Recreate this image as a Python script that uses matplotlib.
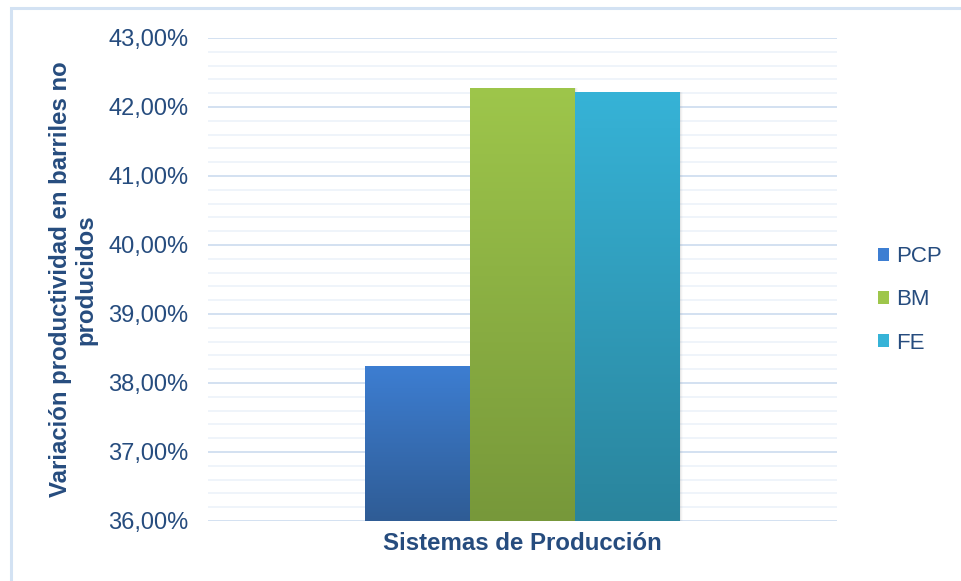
import numpy as np
import matplotlib
matplotlib.use("Agg")
import matplotlib.pyplot as plt
from matplotlib.patches import Rectangle
from matplotlib.colors import LinearSegmentedColormap
from matplotlib.ticker import MultipleLocator, FuncFormatter

plt.rcParams['font.family'] = ['Liberation Sans', 'DejaVu Sans']

category = ["Sistemas de Producción"]
series = ["PCP", "BM", "FE"]
values = [38.25, 42.28, 42.22]          # percent
y_ticks = [36, 37, 38, 39, 40, 41, 42, 43]
y_label = "Variación productividad en barriles no\nproducidos"

# top / bottom colours of each bar's vertical gradient
grad_top = ["#3D7ED2", "#9EC64B", "#36B3D7"]
grad_bottom = ["#2F5C95", "#77983A", "#2A849C"]

text_color = "#264C7E"

fig = plt.figure(figsize=(9.61, 5.81), dpi=100)
ax = fig.add_axes([208 / 961, 1 - 521 / 581, 629 / 961, 483 / 581])

width = 1 / 6
offsets = (np.arange(len(series)) - 1) * width
bars = []
for i, name in enumerate(series):
    b = ax.bar(0 + offsets[i], values[i] - y_ticks[0], bottom=y_ticks[0],
               width=width, color=grad_bottom[i], label=name, zorder=3,
               linewidth=0)
    bars.append(b[0])

# vertical gradient fill clipped to each bar
grad = np.linspace(1, 0, 256).reshape(-1, 1)
for i, patch in enumerate(bars):
    x0, y0 = patch.get_x(), patch.get_y()
    w, h = patch.get_width(), patch.get_height()
    cmap = LinearSegmentedColormap.from_list(f"g{i}", [grad_bottom[i], grad_top[i]])
    # soft shadow on the right edge
    for k, a in enumerate([0.10, 0.06, 0.03]):
        sh = Rectangle((x0 + w, y0), 0.0018 * (k + 1), h, transform=ax.transData,
                       color="#808080", alpha=a, lw=0, zorder=2)
        ax.add_patch(sh)
    im = ax.imshow(grad, cmap=cmap, aspect="auto", extent=[x0, x0 + w, y0, y0 + h],
                   zorder=4, interpolation="bilinear")
    im.set_clip_path(patch)
    patch.set_facecolor("none")

ax.set_xlim(-0.5, 0.5)
ax.set_ylim(y_ticks[0], y_ticks[-1])

ax.yaxis.set_major_locator(MultipleLocator(1))
ax.yaxis.set_minor_locator(MultipleLocator(0.2))
ax.yaxis.set_major_formatter(FuncFormatter(lambda v, p: f"{v:.2f}".replace(".", ",") + "%"))
ax.grid(axis="y", which="major", color="#D3E1F1", linewidth=1.4, zorder=0)
ax.grid(axis="y", which="minor", color="#ECF2F9", linewidth=1.2, zorder=0)
ax.set_axisbelow(True)

ax.set_xticks([0])
ax.set_xticklabels(category, fontsize=17.3, fontweight="bold", color=text_color)
ax.tick_params(axis="x", length=0, pad=8)
ax.tick_params(axis="y", which="both", length=0, pad=14, labelsize=17,
               labelcolor=text_color)
for s in ax.spines.values():
    s.set_visible(False)

ax.set_ylabel(y_label, fontsize=17.3, fontweight="bold", color=text_color,
              linespacing=1.15)
ax.yaxis.set_label_coords(-0.176, 0.5)

leg = ax.legend(loc="center left", bbox_to_anchor=(1.051, 0.458), frameon=False,
                fontsize=16, handlelength=0.5, handleheight=0.5,
                handletextpad=0.3, labelspacing=1.0, labelcolor=text_color,
                borderaxespad=0)
for h, c in zip(leg.legend_handles, grad_top):
    h.set_facecolor(c)

# chart area border
fig.add_artist(Rectangle((11 / 961, -0.05), 1.1, 1 - 8 / 581 + 0.05,
                         transform=fig.transFigure, fill=False,
                         edgecolor="#D3E2F3", linewidth=2.2))

fig.savefig("out.png", dpi=100)
